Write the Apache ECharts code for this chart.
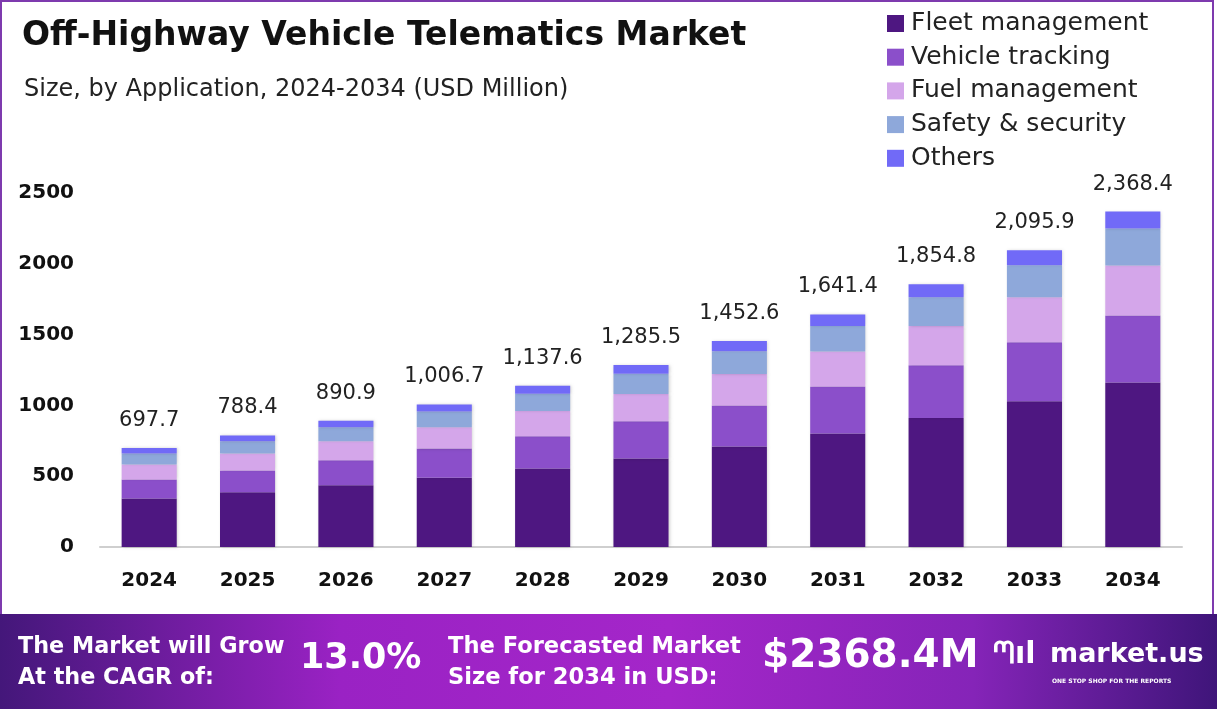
<!DOCTYPE html>
<html><head><meta charset="utf-8">
<script src="https://cdn.jsdelivr.net/npm/echarts@6/dist/echarts.min.js"></script>
<style>html,body{margin:0;padding:0;background:#fff}#c{width:1217px;height:709px}</style>
</head><body><div id="c"></div>
<script>
const years = ['2024','2025','2026','2027','2028','2029','2030','2031','2032','2033','2034'];
const totals = [697.7,788.4,890.9,1006.7,1137.6,1285.5,1452.6,1641.4,1854.8,2095.9,2368.4];
const fleetManagement = [343,386,436,489,555,625,709,802,911,1029,1162];
const vehicleTracking = [134,155,177,206,228,263,291,332,372,417,473];
const fuelManagement = [106,120,134,151,178,192,222,247,278,318,353];
const safetySecurity = [78,85,99,111,121,144,161,179,202,226,261];
const others = [38,42,45,50,57,62,71,82,92,106,120];
const yTicks = [0,500,1000,1500,2000,2500];

const names = ['Fleet management','Vehicle tracking','Fuel management','Safety & security','Others'];
const colors = ['#4E1781','#8B4FCA','#D4A6EA','#8EA8DA','#716AF7'];
const data = [fleetManagement, vehicleTracking, fuelManagement, safetySecurity, others];
const F = '"DejaVu Sans", Inter, sans-serif';

const chart = echarts.init(document.getElementById('c'));
const series = names.map((n,i)=>({
  name:n, type:'bar', stack:'t', data:data[i], barWidth:'56%',
  itemStyle:{color:colors[i], shadowBlur:3, shadowColor:'rgba(0,0,0,0.18)', shadowOffsetX:1},
  label: i===4 ? {show:true, position:'top', distance:17, color:'#222', fontSize:21, fontFamily:F,
    formatter:p=>totals[p.dataIndex].toLocaleString('en-US',{minimumFractionDigits:1,maximumFractionDigits:1})} : {show:false}
}));

chart.setOption({
  animation:false,
  textStyle:{fontFamily:F},
  legend:{orient:'vertical', left:887, top:11, padding:0, itemWidth:17, itemHeight:17, itemGap:8.7,
    icon:'rect', data:names, textStyle:{fontSize:25, color:'#222', fontFamily:F, lineHeight:25, padding:[0,0,0,2]}},
  grid:{left:100, right:35, top:193, bottom:162},
  xAxis:{type:'category', data:years, axisTick:{show:false},
    axisLine:{lineStyle:{color:'#cfcfcf', width:2}},
    axisLabel:{fontSize:20, fontWeight:'bold', color:'#111', margin:24, fontFamily:F}},
  yAxis:{type:'value', min:0, max:2500, interval:500, splitLine:{show:false},
    axisLabel:{fontSize:20, fontWeight:'bold', color:'#111', margin:26, fontFamily:F,
      formatter:v=>yTicks.includes(v)?String(v):''}},
  series: series,
  graphic:[
    {type:'rect', shape:{x:1, y:1, width:1212, height:614}, style:{fill:'none', stroke:'#7E3AAE', lineWidth:2}, silent:true},
    {type:'text', left:22, top:20, style:{text:'Off-Highway Vehicle Telematics Market', font:'700 33px '+F, fill:'#111'}},
    {type:'text', left:24, top:78, style:{text:'Size, by Application, 2024-2034 (USD Million)', font:'400 24px '+F, fill:'#222'}},
    {type:'rect', shape:{x:0, y:614, width:1217, height:95}, style:{fill:new echarts.graphic.LinearGradient(0,0,1,0,[
      {offset:0,color:'#44177A'},{offset:0.28,color:'#9A22C4'},{offset:0.55,color:'#A426C9'},{offset:0.8,color:'#8524B8'},{offset:1,color:'#3F157A'}])}},
    {type:'text', left:18, top:632, style:{text:'The Market will Grow\nAt the CAGR of:', font:'700 22.3px '+F, lineHeight:31, fill:'#fff'}},
    {type:'text', left:300, top:641, style:{text:'13.0%', font:'700 35px '+F, fill:'#fff'}},
    {type:'text', left:448, top:632, style:{text:'The Forecasted Market\nSize for 2034 in USD:', font:'700 22.6px '+F, lineHeight:31, fill:'#fff'}},
    {type:'text', left:762, top:637, style:{text:'$2368.4M', font:'700 39px '+F, fill:'#fff'}},
    {type:'text', left:993, top:640, style:{text:'ᘉıl', font:'700 30px '+F, fill:'#fff'}},
    {type:'text', left:1050, top:641, style:{text:'market.us', font:'700 27px '+F, fill:'#fff'}},
    {type:'text', left:1052, top:678, style:{text:'ONE STOP SHOP FOR THE REPORTS', font:'700 6px '+F, fill:'#fff'}}
  ]
});
</script></body></html>
